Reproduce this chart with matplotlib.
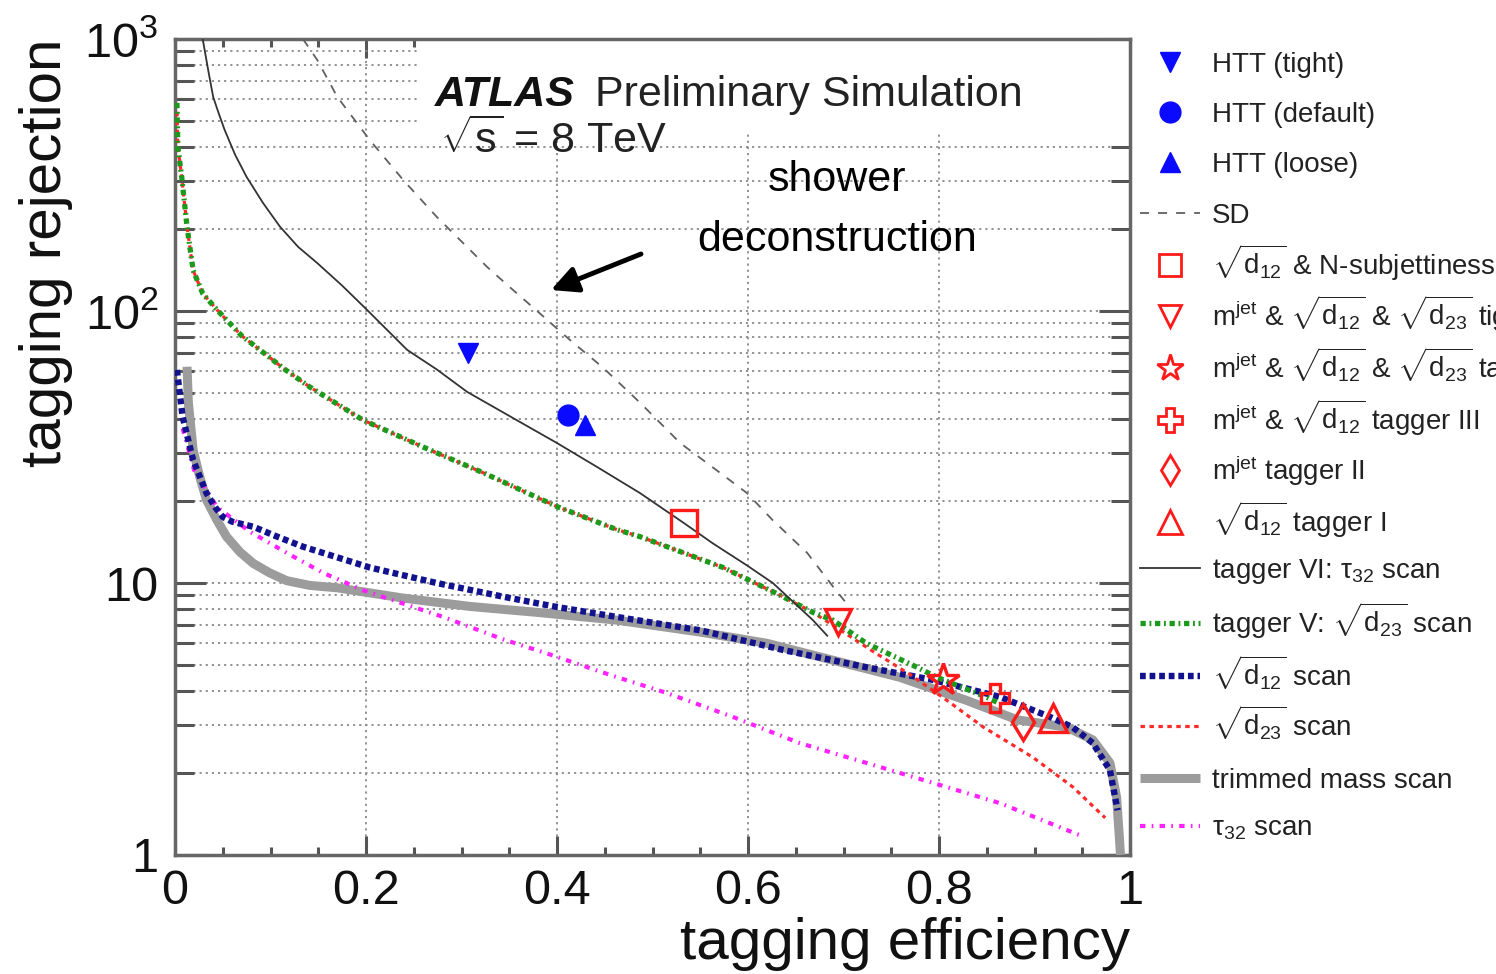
import matplotlib
matplotlib.use("Agg")
import matplotlib.pyplot as plt
from matplotlib.lines import Line2D
from matplotlib.patches import Rectangle
from matplotlib.ticker import FixedLocator, FixedFormatter, NullFormatter, MultipleLocator

plt.rcParams["font.family"] = ["Liberation Sans", "DejaVu Sans"]
plt.rcParams["mathtext.fontset"] = "custom"
plt.rcParams["mathtext.rm"] = "Liberation Sans"
plt.rcParams["mathtext.it"] = "Liberation Sans:italic"
plt.rcParams["mathtext.bf"] = "Liberation Sans:bold"

# ---- ROC curves: tagging efficiency vs background rejection ----
sd_eff = [0.134, 0.149, 0.170, 0.204, 0.239, 0.274, 0.327, 0.351, 0.375, 0.414, 0.448,
          0.487, 0.529, 0.567, 0.599, 0.626, 0.662, 0.689, 0.707]
sd_rej = [1000, 837, 612, 425, 303, 222, 145, 122, 103, 78, 62,
          46, 32.7, 26, 21.4, 17.0, 12.9, 9.7, 8.1]

tau32_tagger_eff = [0.029, 0.035, 0.040, 0.046, 0.052, 0.063, 0.075, 0.092, 0.110, 0.129,
                    0.149, 0.175, 0.201, 0.243, 0.274, 0.306, 0.354, 0.400, 0.442, 0.487,
                    0.533, 0.563, 0.599, 0.626, 0.668, 0.683]
tau32_tagger_rej = [1000, 760, 612, 530, 463, 375, 311, 250, 204, 172,
                    150, 124, 101, 72, 61, 50.4, 40.4, 32.7, 26.7, 21.4,
                    16.6, 14.0, 11.6, 10.0, 7.3, 6.4]

d23_tagger_eff = [0.002, 0.003, 0.007, 0.0126, 0.019, 0.029, 0.044, 0.054, 0.070, 0.089,
                  0.115, 0.141, 0.197, 0.260, 0.323, 0.400, 0.463, 0.487, 0.574, 0.634,
                  0.668, 0.689, 0.724, 0.777, 0.798, 0.850, 0.864]
d23_tagger_rej = [582, 401, 311, 204, 141, 116, 101, 92.7, 81, 71.9,
                  61, 52.6, 39.7, 31.6, 25.4, 19.1, 15.7, 14.8, 11.4, 9.0,
                  7.8, 7.3, 6.0, 4.9, 4.5, 3.8, 3.6]

d23_scan_eff = [0.002, 0.003, 0.007, 0.0126, 0.019, 0.029, 0.044, 0.054, 0.070, 0.089,
                0.115, 0.141, 0.197, 0.260, 0.323, 0.400, 0.463, 0.487, 0.574, 0.634,
                0.668, 0.700, 0.731, 0.770, 0.808, 0.846, 0.898, 0.940, 0.974]
d23_scan_rej = [582, 401, 311, 204, 141, 116, 101, 92.7, 81, 71.9,
                61, 52.6, 39.7, 31.6, 25.4, 19.1, 15.7, 14.8, 11.4, 9.0,
                7.8, 6.6, 5.6, 4.6, 3.71, 2.96, 2.29, 1.78, 1.37]

d12_scan_eff = [0.002, 0.008, 0.019, 0.033, 0.042, 0.050, 0.060, 0.082, 0.105, 0.134,
                0.204, 0.274, 0.344, 0.400, 0.463, 0.550, 0.637, 0.724, 0.794, 0.864,
                0.916, 0.940, 0.961, 0.979, 0.987]
d12_scan_rej = [60.7, 40.8, 28.3, 21.4, 19.0, 17.5, 16.8, 16.1, 14.9, 13.6,
                11.4, 10.0, 8.9, 8.16, 7.5, 6.7, 5.67, 4.9, 4.4, 3.81,
                3.22, 2.95, 2.58, 2.05, 1.46]

mass_scan_eff = [0.0126, 0.014, 0.019, 0.026, 0.033, 0.044, 0.054, 0.068, 0.082, 0.099,
                 0.117, 0.141, 0.170, 0.239, 0.309, 0.379, 0.463, 0.550, 0.620, 0.689,
                 0.759, 0.829, 0.882, 0.934, 0.961, 0.979, 0.986, 0.989, 0.990]
mass_scan_rej = [62.4, 46, 30.8, 24.5, 20.2, 17.0, 14.8, 13.0, 11.8, 10.9,
                 10.2, 9.8, 9.6, 8.8, 8.2, 7.8, 7.3, 6.6, 6.0, 5.2,
                 4.5, 3.7, 3.14, 2.95, 2.65, 2.18, 1.63, 1.14, 1.0]

tau32_scan_eff = [0.008, 0.020, 0.044, 0.079, 0.117, 0.155, 0.197, 0.239, 0.281, 0.344,
                  0.390, 0.455, 0.515, 0.584, 0.654, 0.724, 0.794, 0.864, 0.948]
tau32_scan_rej = [37, 26, 19.0, 15.4, 12.9, 10.9, 9.4, 8.4, 7.5, 6.2,
                  5.5, 4.6, 3.94, 3.22, 2.58, 2.18, 1.84, 1.55, 1.18]

# ---- single working points ----
htt_labels = ["HTT (tight)", "HTT (default)", "HTT (loose)"]
htt_eff = [0.307, 0.412, 0.429]
htt_rej = [70, 41.5, 38.1]

wp_labels = [r"$\sqrt{\mathrm{d}_{12}}$ & N-subjettiness tagger",
             r"$\mathrm{m}^{\mathrm{jet}}$ & $\sqrt{\mathrm{d}_{12}}$ & $\sqrt{\mathrm{d}_{23}}$ tight tagger",
             r"$\mathrm{m}^{\mathrm{jet}}$ & $\sqrt{\mathrm{d}_{12}}$ & $\sqrt{\mathrm{d}_{23}}$ tagger IV",
             r"$\mathrm{m}^{\mathrm{jet}}$ & $\sqrt{\mathrm{d}_{12}}$ tagger III",
             r"$\mathrm{m}^{\mathrm{jet}}$ tagger II",
             r"$\sqrt{\mathrm{d}_{12}}$ tagger I"]
wp_eff = [0.533, 0.694, 0.804, 0.859, 0.888, 0.919]
wp_rej = [16.6, 7.2, 4.4, 3.78, 3.08, 3.19]

curve_labels = ["SD",
                r"tagger VI: $\mathrm{\tau}_{32}$ scan",
                r"tagger V: $\sqrt{\mathrm{d}_{23}}$ scan",
                r"$\sqrt{\mathrm{d}_{12}}$ scan",
                r"$\sqrt{\mathrm{d}_{23}}$ scan",
                "trimmed mass scan",
                r"$\mathrm{\tau}_{32}$ scan"]

x_ticks = [0, 0.2, 0.4, 0.6, 0.8, 1]
x_tick_labels = ["0", "0.2", "0.4", "0.6", "0.8", "1"]
y_ticks = [1, 10, 100, 1000]
y_tick_labels = ["1", "10", r"$10^{2}$", r"$10^{3}$"]

W, H = 1496, 974
fig = plt.figure(figsize=(W / 100, H / 100), dpi=100)
ax = fig.add_axes([175 / W, 1 - 855 / H, (1130 - 175) / W, (855 - 39) / H])
ax.set_yscale("log")
ax.set_xlim(0, 1)
ax.set_ylim(1, 1000)
ax.set_axisbelow(True)

# styles
st_sd = dict(color="#606060", lw=1.3, ls=(0, (5, 5)))
st_t6 = dict(color="#333333", lw=1.3, ls="-")
st_t5 = dict(color="#1c9a1c", lw=3.8, ls=(0, (1.0, 0.7, 0.35, 0.7)))
st_d12 = dict(color="#12128f", lw=4.6, ls=(0, (0.9, 0.6)))
st_d23 = dict(color="#ff2a2a", lw=2.3, ls=(0, (1.4, 1.4)))
st_mass = dict(color="#9c9c9c", lw=6.5, ls="-", solid_capstyle="butt", solid_joinstyle="round")
st_tau = dict(color="#ff22ff", lw=3.0, ls=(0, (1.3, 1.5, 0.4, 1.5)))

ax.plot(mass_scan_eff, mass_scan_rej, zorder=3, **st_mass)
ax.plot(tau32_scan_eff, tau32_scan_rej, zorder=3.5, **st_tau)
ax.plot(d12_scan_eff, d12_scan_rej, zorder=4, **st_d12)
ax.plot(d23_scan_eff, d23_scan_rej, zorder=4.5, **st_d23)
ax.plot(d23_tagger_eff, d23_tagger_rej, zorder=5, **st_t5)
ax.plot(tau32_tagger_eff, tau32_tagger_rej, zorder=5.5, **st_t6)
ax.plot(sd_eff, sd_rej, zorder=5.5, **st_sd)

htt_markers = ["v", "o", "^"]
for e, r, m in zip(htt_eff, htt_rej, htt_markers):
    ax.plot([e], [r], marker=m, ms=15, color="#0a0aff", mec="#0a0aff", ls="none", zorder=7)

wp_markers = ["s", "v", "*", "P", "d", "^"]
wp_sizes = [19, 19, 24, 20, 18, 20]
for e, r, m, s in zip(wp_eff, wp_rej, wp_markers, wp_sizes):
    ax.plot([e], [r], marker=m, ms=s, mfc="none", mec="#ff1a1a", mew=2.4, ls="none", zorder=7)

# axes, ticks, grid
ax.xaxis.set_major_locator(FixedLocator(x_ticks))
ax.xaxis.set_major_formatter(FixedFormatter(x_tick_labels))
ax.xaxis.set_minor_locator(MultipleLocator(0.05))
ax.yaxis.set_major_locator(FixedLocator(y_ticks))
ax.yaxis.set_major_formatter(FixedFormatter(y_tick_labels))
ax.yaxis.set_minor_locator(FixedLocator([m * 10 ** d for d in range(3) for m in range(2, 10)]))
ax.yaxis.set_minor_formatter(NullFormatter())

ax.tick_params(axis="both", which="both", direction="in", top=True, right=True,
               color="#555555", width=2.2, labelsize=35, labelcolor="#111111")
ax.tick_params(axis="x", which="major", length=14, pad=10)
ax.tick_params(axis="x", which="minor", length=6)
ax.tick_params(axis="y", which="major", length=22, pad=12)
ax.tick_params(axis="y", which="minor", length=14)

for sp in ax.spines.values():
    sp.set_color("#666666")
    sp.set_linewidth(2.5)

ax.grid(True, axis="y", which="both", color="#8a8a8a", lw=1.3, ls=(0, (1.2, 2.2)))
ax.grid(True, axis="x", which="major", color="#8a8a8a", lw=1.3, ls=(0, (1.2, 2.2)))

# white panel behind the header text
ax.add_patch(Rectangle((0.257, 450), 0.743, 700, facecolor="white", edgecolor="none", zorder=1))

ax.set_xlabel("tagging efficiency", fontsize=42, loc="right", labelpad=2, color="#111111")
ax.set_ylabel("tagging rejection", fontsize=42, loc="top", labelpad=8, color="#111111")

# header
fig.text(435 / W, 1 - 106 / H, "ATLAS", fontsize=31, fontweight="bold", fontstyle="italic",
         va="baseline", ha="left", color="#111111")
fig.text(595 / W, 1 - 106 / H, "Preliminary Simulation", fontsize=31, va="baseline",
         ha="left", color="#222222")
fig.text(440 / W, 1 - 153 / H, r"$\sqrt{\mathrm{s}}$ = 8 TeV", fontsize=31, va="baseline",
         ha="left", color="#222222")

# annotation
fig.text(837 / W, 1 - 180 / H, "shower", fontsize=31, ha="center", va="center", color="black")
fig.text(837 / W, 1 - 240 / H, "deconstruction", fontsize=31, ha="center", va="center", color="black")
ax.annotate("", xy=(551 / W, 1 - 290 / H), xycoords="figure fraction",
            xytext=(641 / W, 1 - 254 / H), textcoords="figure fraction",
            arrowprops=dict(arrowstyle="-|>", lw=3.5, color="black", mutation_scale=40,
                            shrinkA=0, shrinkB=0))

# legend, laid out row by row to the right of the frame
rows_y = [62, 112, 162, 213, 265, 316, 368, 420, 470, 522, 568, 623, 676, 726, 778, 826]
mx = 1170 / W
lx0, lx1 = 1140 / W, 1200 / W
tx = 1212 / W

def fy(py):
    return 1 - py / H

entries = []
for lab, m in zip(htt_labels, htt_markers):
    entries.append(("m", lab, dict(marker=m, ms=15, color="#0a0aff", mec="#0a0aff")))
entries.append(("l", curve_labels[0], st_sd))
for lab, m, s in zip(wp_labels, wp_markers, wp_sizes):
    entries.append(("m", lab, dict(marker=m, ms=s * 0.85, mfc="none", mec="#ff1a1a", mew=2.0)))
line_styles = [st_t6, st_t5, st_d12, st_d23, st_mass, st_tau]
for lab, st in zip(curve_labels[1:], line_styles):
    entries.append(("l", lab, st))

for (kind, lab, st), py in zip(entries, rows_y):
    if kind == "m":
        fig.add_artist(Line2D([mx], [fy(py)], transform=fig.transFigure, ls="none", **st))
    else:
        fig.add_artist(Line2D([lx0, lx1], [fy(py), fy(py)], transform=fig.transFigure, **st))
    fig.text(tx, fy(py + 10), lab, fontsize=20, va="baseline", ha="left", color="#222222")

fig.savefig("out.png", dpi=100)
